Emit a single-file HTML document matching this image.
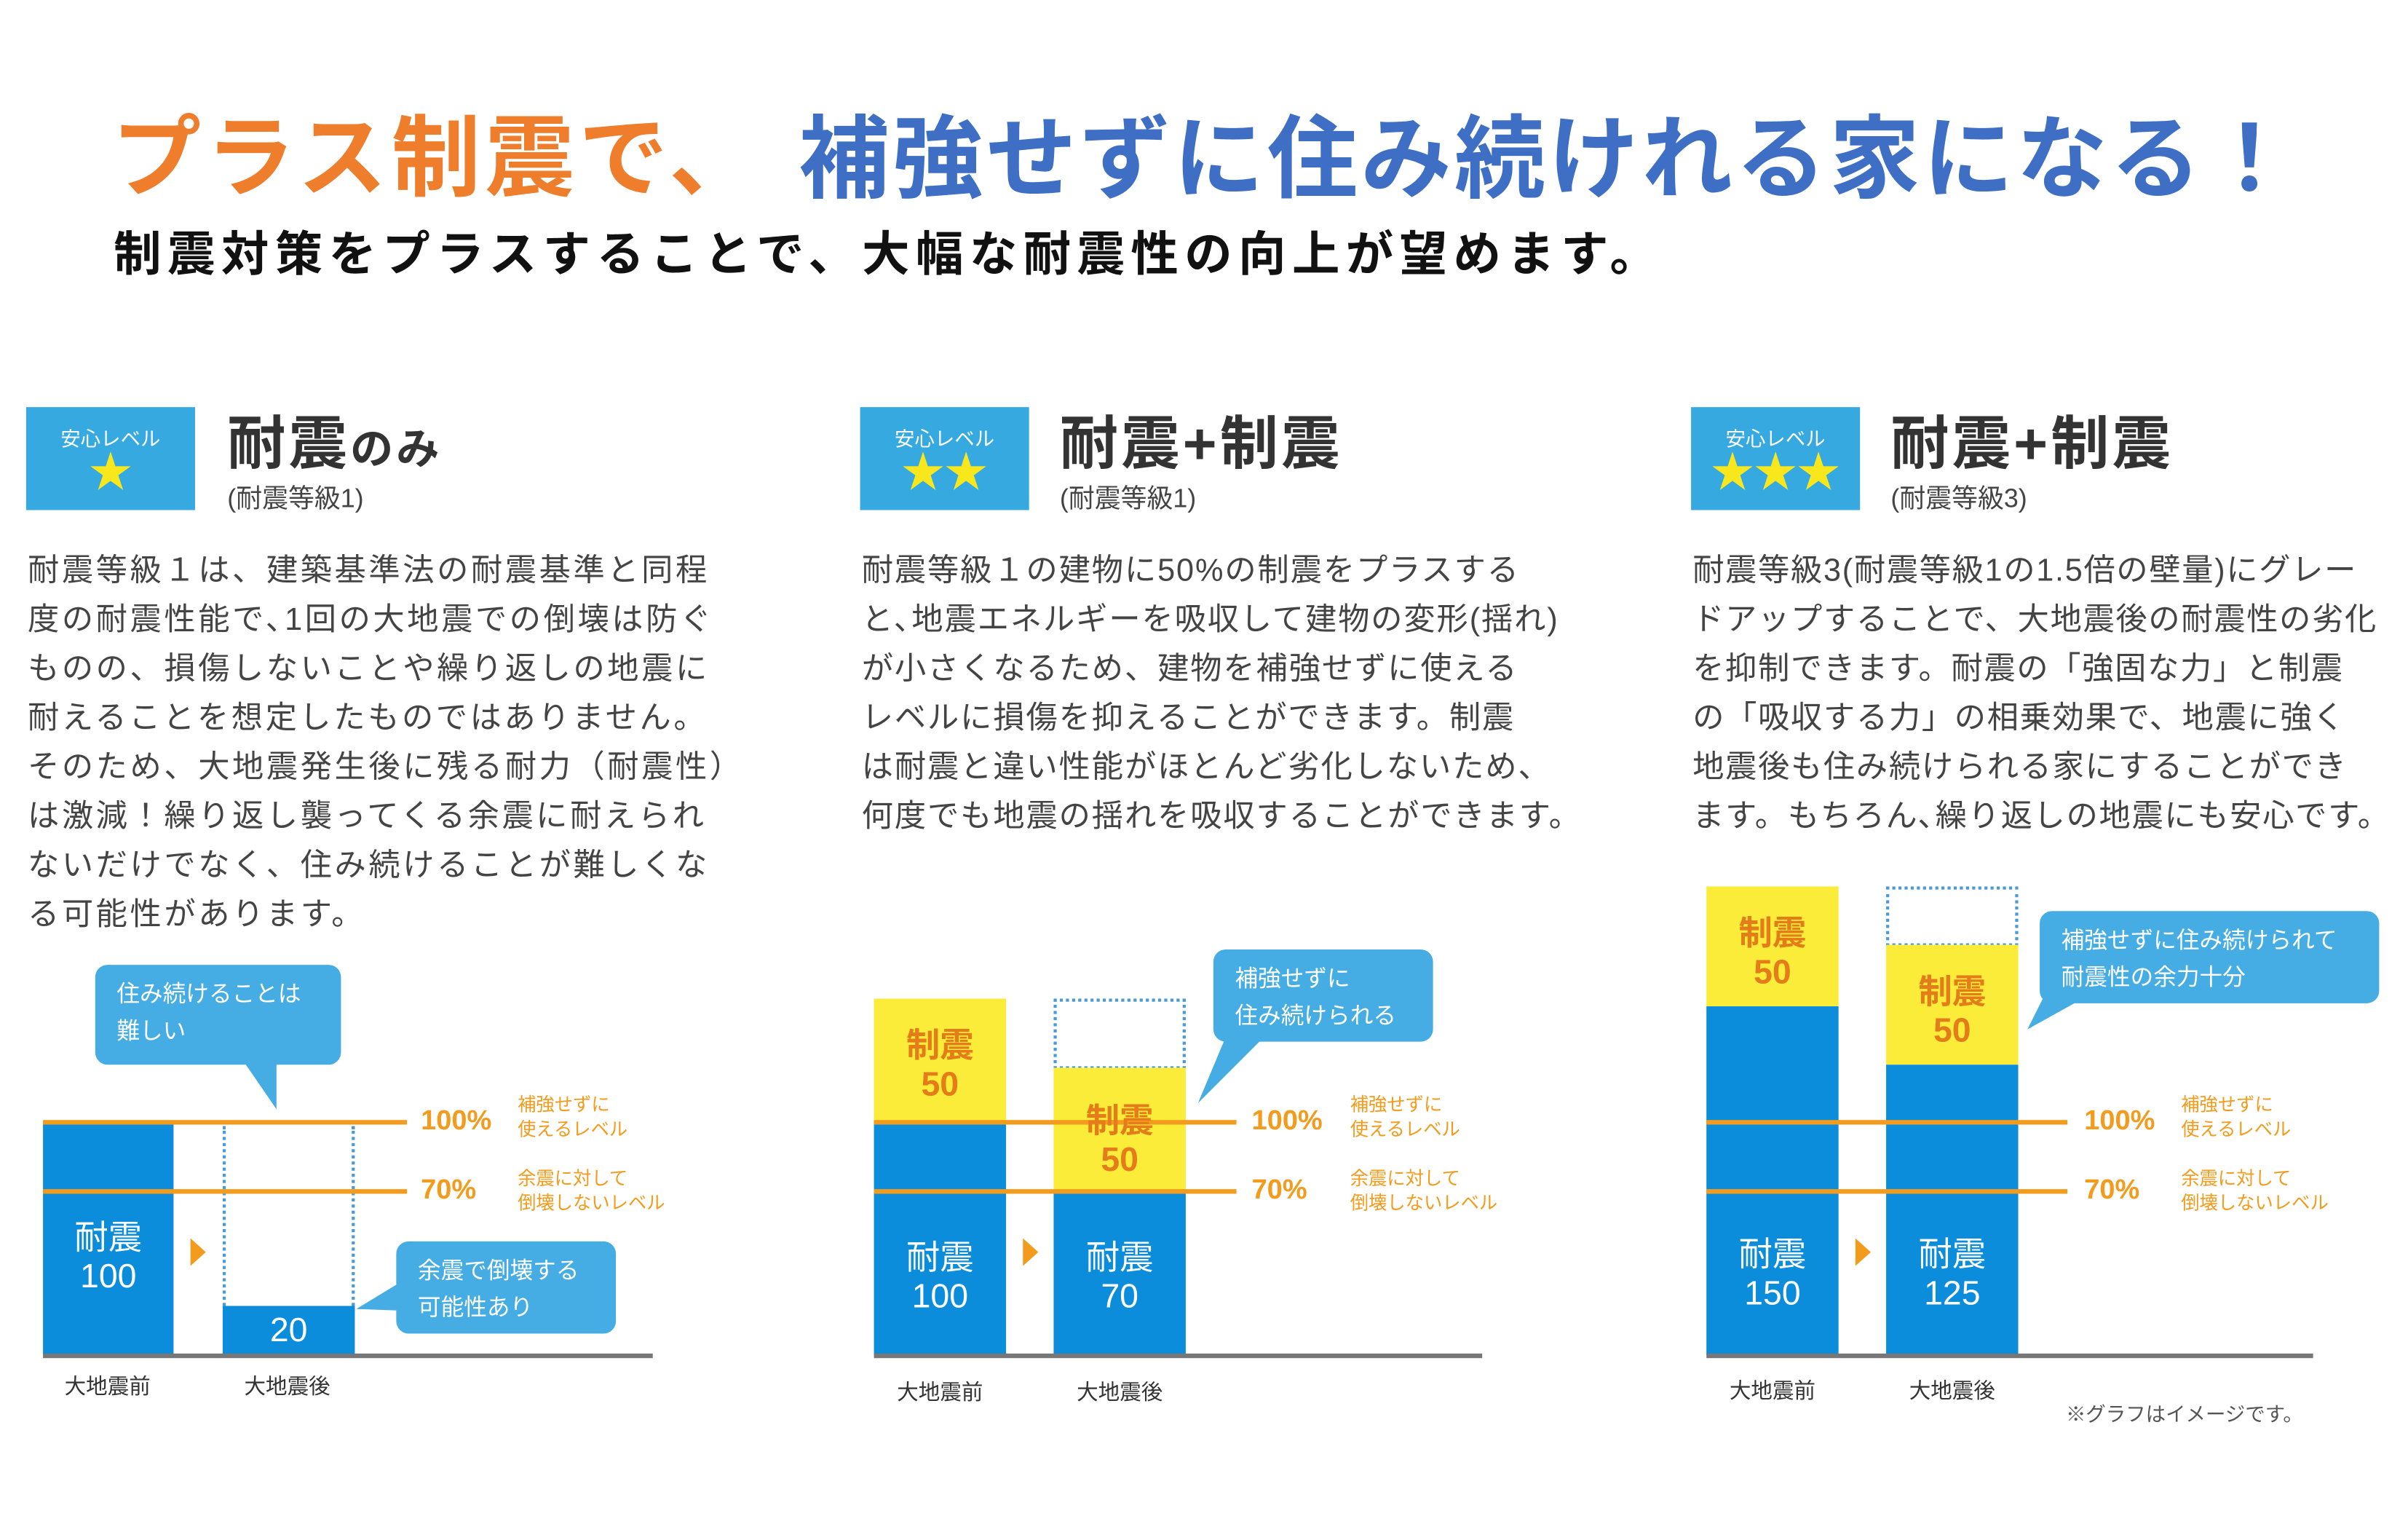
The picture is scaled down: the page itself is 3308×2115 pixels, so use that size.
<!DOCTYPE html>
<html><head><meta charset="utf-8"><style>
html,body{margin:0;padding:0;background:#fff;}
body{width:3308px;height:2115px;overflow:hidden;position:relative;}
#w{position:absolute;left:0;top:0;width:1568px;height:1002px;transform:scale(2.11);transform-origin:0 0;font-family:"Liberation Sans","Noto Sans CJK JP",sans-serif;}
.a{position:absolute;white-space:nowrap;}
.badge{position:absolute;width:110px;height:67px;background:#36a9e1;color:#fff;text-align:center;}
.badge .l{font-size:13px;margin-top:10px;letter-spacing:0px;}
.badge .s{font-size:28px;color:#f8e71c;line-height:28px;}
.h{font-size:38px;font-weight:bold;color:#333;letter-spacing:2px;}
.sub{font-size:17px;color:#444;}
.body{font-size:20.5px;color:#444;line-height:32px;letter-spacing:1.7px;}
.blue{position:absolute;background:#0b8ddb;}
.yel{position:absolute;background:#fbec3a;}
.dot{position:absolute;border:2px dotted #4a9ad6;box-sizing:border-box;}
.ol{position:absolute;height:3px;background:#f29b1d;}
.ax{position:absolute;height:3px;background:#777;}
.bt{position:absolute;color:#fff;font-size:22px;text-align:center;line-height:25px;}
.yt{position:absolute;color:#e57c1a;font-size:22px;text-align:center;line-height:25px;font-weight:bold;}
.pct{position:absolute;color:#f29b1d;font-size:18px;font-weight:bold;}
.sm{position:absolute;color:#f29b1d;font-size:12px;line-height:16px;}
.xl{position:absolute;font-size:14px;color:#333;width:100px;text-align:center;}
.co{position:absolute;background:#45ade3;border-radius:8px;color:#fff;font-size:16px;line-height:24px;padding:8px 14px;box-sizing:border-box;}
.tri{position:absolute;width:0;height:0;border-top:9px solid transparent;border-bottom:9px solid transparent;border-left:10px solid #f29b1d;}
</style></head><body><div id="w">
<div class="a" style="left:73px;top:56px;font-size:58px;font-weight:bold;color:#ee7d2c;letter-spacing:3px;">プラス制震で、</div>
<div class="a" style="left:520px;top:56px;font-size:59px;font-weight:bold;color:#3e6fc4;letter-spacing:2px;">補強せずに住み続けれる家になる！</div>
<div class="a" style="left:74px;top:140px;font-size:31px;font-weight:bold;color:#111;letter-spacing:4px;">制震対策をプラスすることで、大幅な耐震性の向上が望めます。</div>

<!-- panel 1 -->
<div class="badge" style="left:17px;top:265px;"><div class="l">安心レベル</div><div class="s">★</div></div>
<div class="a h" style="left:148px;top:258px;">耐震<span style="font-size:28px">のみ</span></div>
<div class="a sub" style="left:148px;top:310px;">(耐震等級1)</div>
<div class="a body" style="left:18px;top:356px;">耐震等級１は、建築基準法の耐震基準と同程<br>度の耐震性能で､1回の大地震での倒壊は防ぐ<br>ものの、損傷しないことや繰り返しの地震に<br>耐えることを想定したものではありません。<br>そのため、大地震発生後に残る耐力（耐震性）<br>は激減！繰り返し襲ってくる余震に耐えられ<br>ないだけでなく、住み続けることが難しくな<br>る可能性があります。</div>
<div class="co" style="left:62px;top:628px;width:160px;height:65px;font-size:15px;">住み続けることは<br>難しい</div>
<svg class="a" style="left:150px;top:690px" width="40" height="35"><polygon points="8,0 30,0 30,32" fill="#45ade3"/></svg>
<div class="blue" style="left:28px;top:730px;width:85px;height:152px;"></div>
<div class="dot" style="left:145px;top:733px;width:86px;height:120px;border-top:none;border-bottom:none;"></div>
<div class="blue" style="left:145px;top:850px;width:86px;height:32px;"></div>
<div class="ol" style="left:28px;top:729px;width:237px;"></div>
<div class="ol" style="left:28px;top:774px;width:237px;"></div>
<div class="ax" style="left:28px;top:881px;width:397px;"></div>
<div class="bt" style="left:28px;top:793px;width:85px;">耐震<br>100</div>
<div class="bt" style="left:145px;top:853px;width:86px;">20</div>
<div class="tri" style="left:124px;top:806px;"></div>
<div class="pct" style="left:274px;top:719px;">100%</div>
<div class="pct" style="left:274px;top:764px;">70%</div>
<div class="sm" style="left:337px;top:711px;">補強せずに<br>使えるレベル</div>
<div class="sm" style="left:337px;top:759px;">余震に対して<br>倒壊しないレベル</div>
<div class="co" style="left:258px;top:808px;width:143px;height:60px;font-size:15px;">余震で倒壊する<br>可能性あり</div>
<svg class="a" style="left:230px;top:835px" width="32" height="25"><polygon points="30,0 30,18 2,17" fill="#45ade3"/></svg>
<div class="xl" style="left:20px;top:892px;">大地震前</div>
<div class="xl" style="left:137px;top:892px;">大地震後</div>

<!-- panel 2 -->
<div class="badge" style="left:560px;top:265px;"><div class="l">安心レベル</div><div class="s">★★</div></div>
<div class="a h" style="left:690px;top:258px;">耐震+制震</div>
<div class="a sub" style="left:690px;top:310px;">(耐震等級1)</div>
<div class="a body" style="left:561px;top:356px;letter-spacing:0.9px;">耐震等級１の建物に50%の制震をプラスする<br>と､地震エネルギーを吸収して建物の変形(揺れ)<br>が小さくなるため、建物を補強せずに使える<br>レベルに損傷を抑えることができます。制震<br>は耐震と違い性能がほとんど劣化しないため、<br>何度でも地震の揺れを吸収することができます。</div>
<div class="yel" style="left:569px;top:650px;width:86px;height:80px;"></div>
<div class="blue" style="left:569px;top:730px;width:86px;height:152px;"></div>
<div class="dot" style="left:686px;top:650px;width:86px;height:46px;"></div>
<div class="yel" style="left:686px;top:695px;width:86px;height:80px;"></div>
<div class="blue" style="left:686px;top:775px;width:86px;height:107px;"></div>
<div class="ol" style="left:569px;top:729px;width:236px;"></div>
<div class="ol" style="left:569px;top:774px;width:236px;"></div>
<div class="ax" style="left:569px;top:881px;width:396px;"></div>
<div class="yt" style="left:569px;top:668px;width:86px;">制震<br>50</div>
<div class="yt" style="left:686px;top:717px;width:86px;">制震<br>50</div>
<div class="bt" style="left:569px;top:806px;width:86px;">耐震<br>100</div>
<div class="bt" style="left:686px;top:806px;width:86px;">耐震<br>70</div>
<div class="tri" style="left:666px;top:806px;"></div>
<div class="pct" style="left:815px;top:719px;">100%</div>
<div class="pct" style="left:815px;top:764px;">70%</div>
<div class="sm" style="left:879px;top:711px;">補強せずに<br>使えるレベル</div>
<div class="sm" style="left:879px;top:759px;">余震に対して<br>倒壊しないレベル</div>
<div class="co" style="left:790px;top:618px;width:143px;height:60px;font-size:15px;">補強せずに<br>住み続けられる</div>
<svg class="a" style="left:778px;top:675px" width="50" height="45"><polygon points="20,0 45,0 2,43" fill="#45ade3"/></svg>
<div class="xl" style="left:562px;top:896px;">大地震前</div>
<div class="xl" style="left:679px;top:896px;">大地震後</div>

<!-- panel 3 -->
<div class="badge" style="left:1101px;top:265px;"><div class="l">安心レベル</div><div class="s">★★★</div></div>
<div class="a h" style="left:1231px;top:258px;">耐震+制震</div>
<div class="a sub" style="left:1231px;top:310px;">(耐震等級3)</div>
<div class="a body" style="left:1102px;top:356px;letter-spacing:0.8px;">耐震等級3(耐震等級1の1.5倍の壁量)にグレー<br>ドアップすることで、大地震後の耐震性の劣化<br>を抑制できます。耐震の「強固な力」と制震<br>の「吸収する力」の相乗効果で、地震に強く<br>地震後も住み続けられる家にすることができ<br>ます。もちろん､繰り返しの地震にも安心です。</div>
<div class="yel" style="left:1111px;top:577px;width:86px;height:78px;"></div>
<div class="blue" style="left:1111px;top:655px;width:86px;height:227px;"></div>
<div class="dot" style="left:1228px;top:577px;width:86px;height:39px;"></div>
<div class="yel" style="left:1228px;top:615px;width:86px;height:78px;"></div>
<div class="blue" style="left:1228px;top:693px;width:86px;height:189px;"></div>
<div class="ol" style="left:1111px;top:729px;width:235px;"></div>
<div class="ol" style="left:1111px;top:774px;width:235px;"></div>
<div class="ax" style="left:1111px;top:881px;width:395px;"></div>
<div class="yt" style="left:1111px;top:595px;width:86px;">制震<br>50</div>
<div class="yt" style="left:1228px;top:633px;width:86px;">制震<br>50</div>
<div class="bt" style="left:1111px;top:804px;width:86px;">耐震<br>150</div>
<div class="bt" style="left:1228px;top:804px;width:86px;">耐震<br>125</div>
<div class="tri" style="left:1208px;top:806px;"></div>
<div class="pct" style="left:1357px;top:719px;">100%</div>
<div class="pct" style="left:1357px;top:764px;">70%</div>
<div class="sm" style="left:1420px;top:711px;">補強せずに<br>使えるレベル</div>
<div class="sm" style="left:1420px;top:759px;">余震に対して<br>倒壊しないレベル</div>
<div class="co" style="left:1328px;top:593px;width:221px;height:60px;font-size:15px;">補強せずに住み続けられて<br>耐震性の余力十分</div>
<svg class="a" style="left:1318px;top:650px" width="40" height="22"><polygon points="12,0 38,0 2,20" fill="#45ade3"/></svg>
<div class="xl" style="left:1104px;top:895px;">大地震前</div>
<div class="xl" style="left:1221px;top:895px;">大地震後</div>
<div class="a" style="left:1345px;top:910px;font-size:13px;color:#555;">※グラフはイメージです。</div>
</div></body></html>
